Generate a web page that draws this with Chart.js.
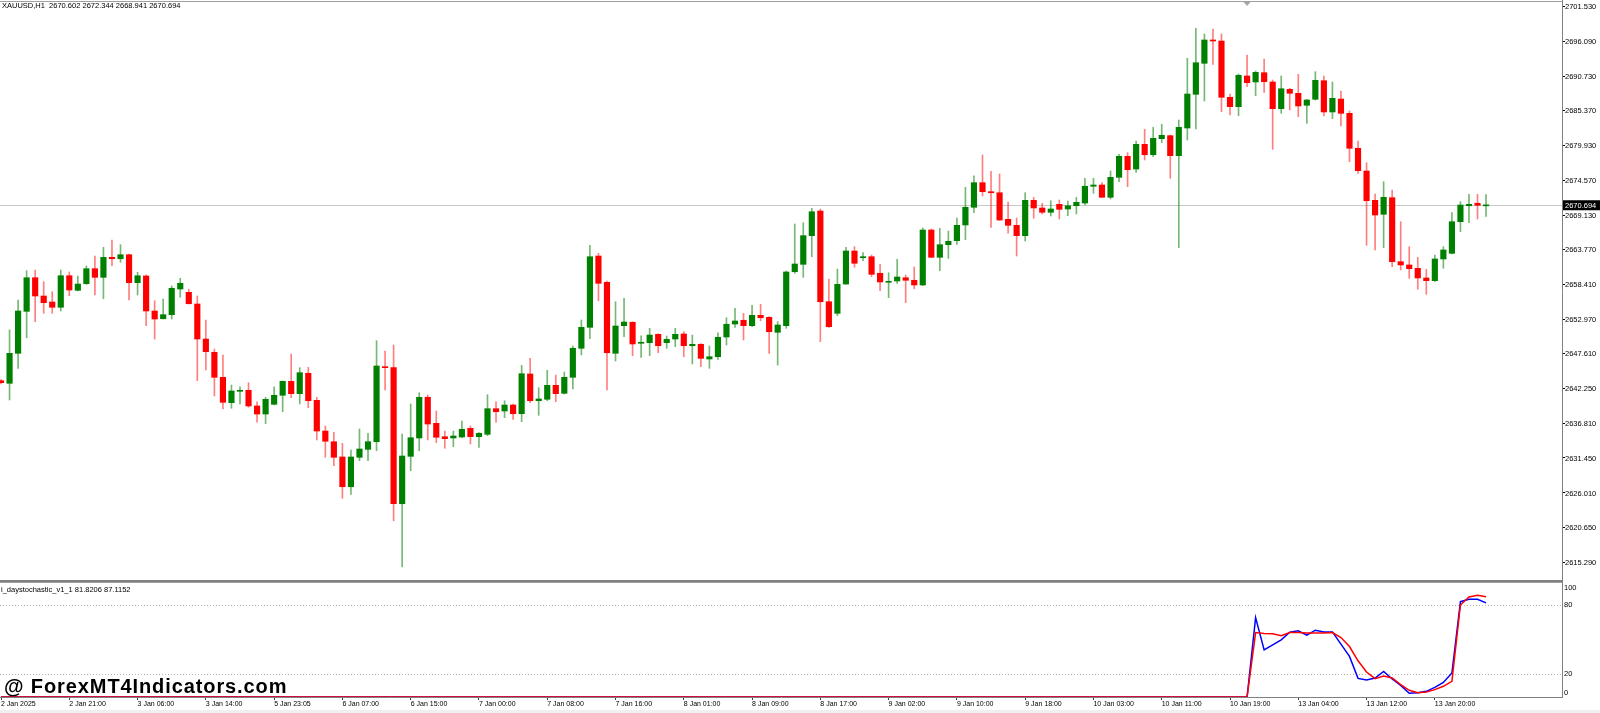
<!DOCTYPE html>
<html>
<head>
<meta charset="utf-8">
<title>XAUUSD,H1</title>
<script src="https://cdn.jsdelivr.net/npm/chart.js@4.4.1/dist/chart.umd.min.js"></script>
<style>
  body { margin: 0; background: #fff; width: 1600px; height: 713px; overflow: hidden; position: relative;
         font-family: "Liberation Sans", Arial, sans-serif; }
  #priceBox { position: absolute; left: 0; top: 0; width: 1600px; height: 582px; }
  #stochBox { position: absolute; left: 0; top: 582px; width: 1600px; height: 131px; }
  .lbl { position: absolute; font-size: 7.5px; line-height: 10px; color: #000; white-space: pre; }
  #head { left: 2px; top: 1px; }
  #stochHead { left: 1px; top: 585px; }
  #mark { position: absolute; left: 4px; top: 675.5px; font: bold 20px "Liberation Sans", Arial, sans-serif;
          letter-spacing: 0.9px; line-height: 20px; color: #000; white-space: pre; }
  #foot { position: absolute; left: 0; top: 710px; width: 1600px; height: 3px; background: #f0f0f0; }
</style>
</head>
<body>
<div id="priceBox"><canvas id="priceChart" width="1600" height="582"></canvas></div>
<div id="stochBox"><canvas id="stochChart" width="1600" height="131"></canvas></div>
<div id="head" class="lbl"></div>
<div id="stochHead" class="lbl"></div>
<div id="mark">@ ForexMT4Indicators.com</div>
<div id="foot"></div>
<script>
// XAUUSD H1, 2 Jan 2025 .. 13 Jan 2025, one candle per hour (175 bars)
const symbolName = 'XAUUSD,H1';
const stochName = 'i_daystochastic_v1_1';

// time axis: a label every 8th bar
const timeTickIdx = [0, 8, 16, 24, 32, 40, 48, 56, 64, 72, 80, 88, 96, 104, 112, 120, 128, 136, 144, 152, 160, 168];
const timeLabels = ['2 Jan 2025', '2 Jan 21:00', '3 Jan 06:00', '3 Jan 14:00', '5 Jan 23:05', '6 Jan 07:00',
  '6 Jan 15:00', '7 Jan 00:00', '7 Jan 08:00', '7 Jan 16:00', '8 Jan 01:00', '8 Jan 09:00', '8 Jan 17:00',
  '9 Jan 02:00', '9 Jan 10:00', '9 Jan 18:00', '10 Jan 03:00', '10 Jan 11:00', '10 Jan 19:00',
  '13 Jan 04:00', '13 Jan 12:00', '13 Jan 20:00'];

// price scale labels as MT4 printed them
const priceTicks = [2701.530, 2696.090, 2690.730, 2685.370, 2679.930, 2674.570, 2669.130, 2663.770, 2658.410,
  2652.970, 2647.610, 2642.250, 2636.810, 2631.450, 2626.010, 2620.650, 2615.290];
const priceMin = 2612.184, priceMax = 2702.570;
const stochLevels = [0, 20, 80, 100];

const opens = [
  2643.45, 2643.04, 2647.70, 2654.22, 2659.44, 2656.60, 2655.67, 2654.85, 2659.75, 2657.48,
  2658.51, 2660.84, 2659.50, 2662.61, 2662.39, 2663.01, 2658.67, 2659.71, 2654.27, 2653.07,
  2653.70, 2657.69, 2657.17, 2655.36, 2649.92, 2647.86, 2643.97, 2640.03, 2641.80, 2641.96,
  2639.52, 2638.27, 2639.78, 2641.18, 2643.35, 2641.43, 2644.60, 2640.40, 2635.63, 2633.97,
  2631.60, 2626.98, 2631.55, 2632.79, 2633.97, 2645.62, 2645.47, 2624.34, 2631.70, 2634.55,
  2640.87, 2636.83, 2634.75, 2634.55, 2634.70, 2636.05, 2634.75, 2635.12, 2639.10, 2638.74,
  2639.67, 2638.32, 2644.49, 2640.34, 2640.56, 2642.73, 2641.49, 2643.97, 2648.48, 2651.74,
  2662.81, 2658.73, 2647.70, 2651.99, 2652.52, 2649.26, 2649.35, 2650.65, 2649.35, 2649.92,
  2650.70, 2648.88, 2649.10, 2646.82, 2647.17, 2650.23, 2652.25, 2652.83, 2651.99, 2653.60,
  2653.29, 2650.96, 2651.99, 2660.37, 2661.52, 2665.97, 2669.80, 2655.71, 2653.91, 2658.46,
  2663.59, 2662.55, 2662.70, 2660.13, 2658.73, 2658.93, 2659.44, 2659.04, 2658.31, 2666.85,
  2662.61, 2664.57, 2665.19, 2667.63, 2670.38, 2674.20, 2672.80, 2672.64, 2668.51, 2667.58,
  2665.97, 2671.46, 2670.27, 2669.60, 2670.84, 2670.11, 2670.62, 2671.04, 2673.64, 2673.84,
  2671.93, 2675.03, 2678.30, 2676.32, 2680.16, 2678.54, 2681.03, 2681.50, 2678.39, 2682.69,
  2687.92, 2692.74, 2696.36, 2696.20, 2687.46, 2686.00, 2690.77, 2689.84, 2691.28, 2689.84,
  2685.69, 2688.70, 2688.08, 2686.22, 2687.15, 2690.04, 2685.18, 2687.19, 2684.97, 2679.54,
  2676.01, 2671.46, 2669.29, 2671.87, 2661.93, 2661.42, 2660.90, 2659.40, 2658.98, 2662.35,
  2663.23, 2668.14, 2670.62, 2671.00, 2670.602
];
const highs = [
  2643.63, 2651.32, 2655.98, 2660.53, 2660.64, 2658.82, 2657.27, 2660.64, 2660.33, 2659.71,
  2661.26, 2662.81, 2664.16, 2665.30, 2664.57, 2663.10, 2660.28, 2659.90, 2655.87, 2656.13,
  2658.15, 2659.35, 2657.64, 2656.60, 2652.87, 2648.37, 2647.44, 2642.78, 2642.51, 2643.14,
  2640.18, 2640.87, 2642.51, 2643.40, 2647.59, 2645.47, 2645.53, 2640.87, 2636.41, 2635.43,
  2633.72, 2632.68, 2635.94, 2635.28, 2649.66, 2648.06, 2648.99, 2635.17, 2639.83, 2641.58,
  2641.23, 2638.74, 2635.63, 2635.63, 2637.19, 2636.41, 2635.37, 2641.27, 2640.18, 2640.34,
  2639.83, 2645.84, 2646.92, 2642.36, 2645.06, 2644.33, 2644.80, 2648.84, 2652.87, 2664.47,
  2663.23, 2658.90, 2655.71, 2656.24, 2652.60, 2650.43, 2651.58, 2650.75, 2650.39, 2651.58,
  2651.06, 2650.54, 2649.20, 2648.84, 2650.90, 2653.23, 2654.69, 2653.91, 2655.16, 2655.31,
  2653.40, 2652.61, 2660.48, 2667.78, 2667.98, 2670.22, 2670.11, 2659.24, 2660.79, 2664.16,
  2664.26, 2663.33, 2662.97, 2661.52, 2660.22, 2662.30, 2659.86, 2661.10, 2667.16, 2667.01,
  2667.11, 2666.69, 2668.71, 2673.48, 2675.28, 2678.50, 2675.97, 2675.55, 2671.20, 2668.71,
  2672.64, 2671.93, 2671.00, 2671.40, 2671.51, 2671.35, 2671.93, 2674.88, 2674.88, 2674.20,
  2676.01, 2678.61, 2678.86, 2680.67, 2682.49, 2682.80, 2683.27, 2681.60, 2683.93, 2693.52,
  2698.17, 2697.29, 2698.07, 2697.29, 2687.97, 2691.08, 2694.03, 2691.54, 2693.41, 2690.15,
  2690.77, 2688.86, 2691.03, 2687.15, 2691.44, 2690.77, 2689.84, 2688.44, 2685.33, 2680.67,
  2677.30, 2672.44, 2674.35, 2673.06, 2668.14, 2664.26, 2662.61, 2660.75, 2662.97, 2664.26,
  2669.54, 2671.25, 2672.40, 2672.40, 2672.344
];
const lows = [
  2642.93, 2640.45, 2645.37, 2650.12, 2652.61, 2653.91, 2653.91, 2654.27, 2656.65, 2657.38,
  2658.41, 2656.76, 2656.18, 2661.31, 2661.83, 2655.98, 2656.76, 2651.99, 2649.92, 2653.03,
  2653.03, 2656.40, 2655.36, 2643.45, 2645.11, 2641.07, 2639.05, 2639.16, 2639.83, 2639.32,
  2636.99, 2636.77, 2639.70, 2638.63, 2640.81, 2639.83, 2639.26, 2634.24, 2631.55, 2630.25,
  2625.18, 2625.80, 2631.02, 2631.02, 2632.57, 2642.00, 2621.70, 2614.51, 2629.47, 2632.57,
  2634.24, 2633.82, 2632.95, 2633.20, 2634.59, 2633.62, 2633.10, 2634.90, 2636.99, 2637.70,
  2637.45, 2637.08, 2640.03, 2638.07, 2640.34, 2640.18, 2641.38, 2642.16, 2647.44, 2649.97,
  2655.87, 2642.00, 2646.51, 2650.28, 2647.33, 2647.08, 2647.33, 2647.79, 2648.48, 2648.73,
  2647.17, 2646.04, 2645.62, 2645.37, 2646.77, 2648.99, 2651.74, 2649.77, 2651.83, 2652.76,
  2647.70, 2645.88, 2651.58, 2660.13, 2659.50, 2662.70, 2649.50, 2651.73, 2653.54, 2658.40,
  2661.06, 2662.08, 2659.60, 2657.42, 2656.34, 2658.57, 2655.56, 2657.73, 2658.20, 2662.55,
  2660.53, 2662.45, 2664.63, 2665.34, 2669.54, 2672.13, 2667.27, 2668.35, 2666.34, 2662.81,
  2665.14, 2668.67, 2669.34, 2669.03, 2668.56, 2669.07, 2669.34, 2670.73, 2672.55, 2671.90,
  2671.66, 2674.35, 2673.58, 2675.81, 2677.72, 2678.23, 2680.41, 2674.88, 2664.10, 2680.83,
  2682.54, 2686.88, 2692.58, 2685.22, 2684.71, 2684.60, 2689.11, 2687.71, 2688.20, 2679.38,
  2684.97, 2685.49, 2684.45, 2683.42, 2687.04, 2684.55, 2684.14, 2683.00, 2677.46, 2675.65,
  2664.47, 2663.75, 2664.10, 2661.15, 2660.64, 2659.35, 2657.64, 2656.86, 2658.82, 2660.90,
  2663.12, 2666.59, 2667.98, 2668.56, 2668.941
];
const closes = [
  2643.14, 2647.70, 2654.27, 2659.44, 2656.60, 2655.56, 2654.85, 2659.75, 2657.53, 2658.46,
  2660.84, 2659.50, 2662.61, 2662.39, 2663.01, 2658.67, 2659.75, 2654.27, 2653.03, 2653.70,
  2657.80, 2658.57, 2655.40, 2649.92, 2647.95, 2643.97, 2640.09, 2641.85, 2641.96, 2639.52,
  2638.27, 2640.56, 2641.18, 2643.35, 2641.43, 2644.69, 2640.34, 2635.63, 2634.04, 2631.55,
  2626.98, 2631.60, 2632.84, 2633.97, 2645.73, 2645.47, 2624.34, 2631.75, 2634.59, 2640.87,
  2636.72, 2634.66, 2634.44, 2634.86, 2635.90, 2634.75, 2635.28, 2639.10, 2638.63, 2639.67,
  2638.32, 2644.53, 2640.34, 2640.61, 2642.73, 2641.43, 2643.97, 2648.48, 2651.74, 2662.70,
  2658.57, 2647.79, 2651.94, 2652.56, 2649.15, 2649.41, 2650.54, 2648.88, 2649.88, 2650.65,
  2648.88, 2649.10, 2646.92, 2647.17, 2650.19, 2652.21, 2652.72, 2651.99, 2653.60, 2653.23,
  2651.06, 2652.10, 2660.33, 2661.57, 2665.97, 2669.69, 2655.71, 2651.83, 2658.41, 2663.59,
  2661.68, 2662.70, 2659.97, 2658.78, 2658.88, 2659.55, 2659.04, 2658.31, 2666.85, 2662.61,
  2664.57, 2665.10, 2667.58, 2670.38, 2674.20, 2672.80, 2672.64, 2668.40, 2667.58, 2665.97,
  2671.46, 2670.27, 2669.60, 2670.11, 2670.06, 2670.62, 2671.15, 2673.64, 2673.84, 2671.93,
  2675.03, 2678.30, 2676.21, 2680.16, 2678.54, 2681.09, 2681.56, 2678.39, 2682.80, 2687.97,
  2692.83, 2696.36, 2696.20, 2687.46, 2686.00, 2690.88, 2689.73, 2691.34, 2689.88, 2685.69,
  2688.79, 2688.08, 2686.11, 2687.04, 2690.10, 2685.18, 2687.30, 2684.97, 2679.54, 2676.06,
  2671.40, 2669.18, 2671.93, 2661.93, 2661.42, 2660.84, 2659.40, 2658.98, 2662.35, 2663.75,
  2668.14, 2670.73, 2670.84, 2670.69, 2670.694
];

// i_daystochastic: main (blue) and signal (red) lines
const stochMain = [
  0, 0, 0, 0, 0, 0, 0, 0, 0, 0, 0, 0, 0, 0, 0, 0, 0, 0, 0, 0,
  0, 0, 0, 0, 0, 0, 0, 0, 0, 0, 0, 0, 0, 0, 0, 0, 0, 0, 0, 0,
  0, 0, 0, 0, 0, 0, 0, 0, 0, 0, 0, 0, 0, 0, 0, 0, 0, 0, 0, 0,
  0, 0, 0, 0, 0, 0, 0, 0, 0, 0, 0, 0, 0, 0, 0, 0, 0, 0, 0, 0,
  0, 0, 0, 0, 0, 0, 0, 0, 0, 0, 0, 0, 0, 0, 0, 0, 0, 0, 0, 0,
  0, 0, 0, 0, 0, 0, 0, 0, 0, 0, 0, 0, 0, 0, 0, 0, 0, 0, 0, 0,
  0, 0, 0, 0, 0, 0, 0, 0, 0, 0, 0, 0, 0, 0, 0, 0, 0, 0, 0, 0,
  0, 0, 0, 0, 0, 0, 0,
  69.0, 41.0, 45.4, 49.7, 56.4, 57.5, 53.7, 58.1, 56.6, 56.6,
  46.0, 35.3, 16.2, 14.8, 16.5, 22.3, 15.7, 10.1, 3.2, 3.8,
  4.9, 8.4, 12.7, 20.9, 82.9, 84.9, 84.9, 81.8206
];
const stochSignal = [
  0, 0, 0, 0, 0, 0, 0, 0, 0, 0, 0, 0, 0, 0, 0, 0, 0, 0, 0, 0,
  0, 0, 0, 0, 0, 0, 0, 0, 0, 0, 0, 0, 0, 0, 0, 0, 0, 0, 0, 0,
  0, 0, 0, 0, 0, 0, 0, 0, 0, 0, 0, 0, 0, 0, 0, 0, 0, 0, 0, 0,
  0, 0, 0, 0, 0, 0, 0, 0, 0, 0, 0, 0, 0, 0, 0, 0, 0, 0, 0, 0,
  0, 0, 0, 0, 0, 0, 0, 0, 0, 0, 0, 0, 0, 0, 0, 0, 0, 0, 0, 0,
  0, 0, 0, 0, 0, 0, 0, 0, 0, 0, 0, 0, 0, 0, 0, 0, 0, 0, 0, 0,
  0, 0, 0, 0, 0, 0, 0, 0, 0, 0, 0, 0, 0, 0, 0, 0, 0, 0, 0, 0,
  0, 0, 0, 0, 0, 0, 0,
  56.0, 55.2, 54.9, 53.2, 56.0, 56.0, 55.7, 55.7, 55.7, 56.0,
  51.7, 43.9, 31.5, 21.7, 15.9, 18.3, 16.5, 10.7, 5.8, 3.8,
  4.4, 6.4, 9.3, 13.6, 80.0, 86.9, 88.4, 87.1152
];

const shiftMarkIdx = 146;   // little grey chart-shift triangle on top

const xMin = -0.12, xMax = 182.9;
const FONT = '"Liberation Sans", Arial, sans-serif';
const BULL = '#008000', BEAR = '#ff0000';
const last = opens.length - 1;
const bull = closes.map((c, i) => c >= opens[i]);
const idx = opens.map((o, i) => i);

document.getElementById('head').textContent = symbolName + '  ' +
  [opens[last], highs[last], lows[last], closes[last]].map(v => v.toFixed(3)).join(' ');
document.getElementById('stochHead').textContent = stochName + ' ' +
  stochMain[last].toFixed(4) + ' ' + stochSignal[last].toFixed(4);

const common = {
  responsive: false,
  animation: false,
  devicePixelRatio: 1,
  events: [],
  layout: { padding: 0 },
  plugins: { legend: { display: false }, tooltip: { enabled: false } }
};

// frame, price labels, bid line and its black box
const pricePanel = {
  id: 'pricePanel',
  beforeDatasetsDraw(chart) {
    const { ctx, chartArea: a, scales: { y } } = chart;
    const py = Math.round(y.getPixelForValue(closes[last])) + 0.5;
    ctx.save();
    ctx.strokeStyle = '#c8c8c8';
    ctx.lineWidth = 1;
    ctx.beginPath();
    ctx.moveTo(a.left, py);
    ctx.lineTo(a.right, py);
    ctx.stroke();
    ctx.restore();
  },
  afterDraw(chart) {
    const { ctx, chartArea: a, scales: { x, y } } = chart;
    ctx.save();
    ctx.fillStyle = '#a0a0a0';
    ctx.fillRect(a.left, 1, a.right - a.left, 1);
    ctx.fillStyle = '#808080';
    ctx.fillRect(a.left, a.bottom - 2, a.right - a.left + 1, 2);
    const sx = x.getPixelForValue(shiftMarkIdx);
    ctx.fillStyle = '#a8a8a8';
    ctx.beginPath();
    ctx.moveTo(sx - 3.5, 2);
    ctx.lineTo(sx + 3.5, 2);
    ctx.lineTo(sx, 6);
    ctx.closePath();
    ctx.fill();
    ctx.font = '7.5px ' + FONT;
    ctx.textBaseline = 'middle';
    ctx.textAlign = 'left';
    ctx.fillStyle = '#000';
    priceTicks.forEach(v => ctx.fillText(v.toFixed(3), a.right + 3, y.getPixelForValue(v) + 0.5));
    const py = y.getPixelForValue(closes[last]);
    ctx.fillStyle = '#000';
    ctx.fillRect(a.right + 1, py - 5, 38, 10);
    ctx.fillStyle = '#fff';
    ctx.fillText(closes[last].toFixed(3), a.right + 3, py + 0.5);
    ctx.restore();
  }
};

new Chart(document.getElementById('priceChart'), {
  type: 'bar',
  data: {
    datasets: [
      {
        label: 'body',
        data: idx.map(i => ({ x: i, y: [opens[i], closes[i]] })),
        backgroundColor: bull.map(b => b ? BULL : BEAR),
        barThickness: 5.5,
        minBarLength: 1,
        grouped: false,
        order: 0
      },
      {
        label: 'wick',
        data: idx.map(i => ({ x: i, y: [lows[i], highs[i]] })),
        backgroundColor: bull.map(b => b ? 'rgba(0,128,0,0.55)' : 'rgba(255,0,0,0.5)'),
        barThickness: 1,
        grouped: false,
        order: 1
      }
    ]
  },
  options: Object.assign({}, common, {
    scales: {
      x: { type: 'linear', min: xMin, max: xMax, offset: false, display: false },
      y: {
        position: 'right',
        min: priceMin,
        max: priceMax,
        afterBuildTicks: s => { s.ticks = priceTicks.map(v => ({ value: v })); },
        afterFit: s => { s.width = 38; },
        ticks: { display: false },
        grid: { drawOnChartArea: false, drawTicks: true, tickLength: 3, color: '#000' },
        border: { color: '#808080' }
      }
    }
  }),
  plugins: [pricePanel]
});

// dotted 20/80 levels, panel top line, level labels kept inside the panel
const stochPanel = {
  id: 'stochPanel',
  beforeDatasetsDraw(chart) {
    const { ctx, chartArea: a, scales: { y } } = chart;
    ctx.save();
    ctx.strokeStyle = '#b4b4b4';
    ctx.lineWidth = 1;
    ctx.setLineDash([1, 2]);
    [20, 80].forEach(v => {
      const py = Math.round(y.getPixelForValue(v)) + 0.5;
      ctx.beginPath();
      ctx.moveTo(a.left, py);
      ctx.lineTo(a.right, py);
      ctx.stroke();
    });
    ctx.restore();
  },
  afterDraw(chart) {
    const { ctx, chartArea: a, scales: { y } } = chart;
    ctx.save();
    ctx.fillStyle = '#a0a0a0';
    ctx.fillRect(a.left, 0, a.right - a.left, 1);
    ctx.fillStyle = '#000';
    ctx.font = '7.5px ' + FONT;
    ctx.textBaseline = 'middle';
    ctx.textAlign = 'left';
    stochLevels.forEach(v => {
      let py = y.getPixelForValue(v);
      py = Math.min(Math.max(py, a.top + 5.5), a.bottom - 4);
      ctx.fillText(String(v), a.right + 2, py);
    });
    ctx.restore();
  }
};

new Chart(document.getElementById('stochChart'), {
  type: 'line',
  data: {
    datasets: [
      {
        label: 'main',
        data: idx.map(i => ({ x: i, y: stochMain[i] })),
        borderColor: '#0000ff',
        borderWidth: 1.5,
        pointRadius: 0,
        tension: 0,
        order: 1
      },
      {
        label: 'signal',
        data: idx.map(i => ({ x: i, y: stochSignal[i] })),
        borderColor: '#ff0000',
        borderWidth: 1.5,
        pointRadius: 0,
        tension: 0,
        order: 0
      }
    ]
  },
  options: Object.assign({}, common, {
    scales: {
      x: {
        type: 'linear',
        min: xMin,
        max: xMax,
        offset: false,
        position: 'bottom',
        afterBuildTicks: s => { s.ticks = timeTickIdx.map(v => ({ value: v })); },
        afterFit: s => { s.height = 16; },
        ticks: {
          font: { family: FONT, size: 7 }, color: '#000', padding: 0, align: 'start',
          autoSkip: false, maxRotation: 0, callback: (v, i) => timeLabels[i]
        },
        grid: { drawOnChartArea: false, tickLength: 3, color: '#404040' },
        border: { color: '#808080' }
      },
      y: {
        position: 'right',
        min: 0,
        max: 100,
        afterBuildTicks: s => { s.ticks = stochLevels.map(v => ({ value: v })); },
        afterFit: s => { s.width = 38; },
        ticks: { display: false },
        grid: { display: false },
        border: { color: '#808080' }
      }
    }
  }),
  plugins: [stochPanel]
});
</script>
</body>
</html>
